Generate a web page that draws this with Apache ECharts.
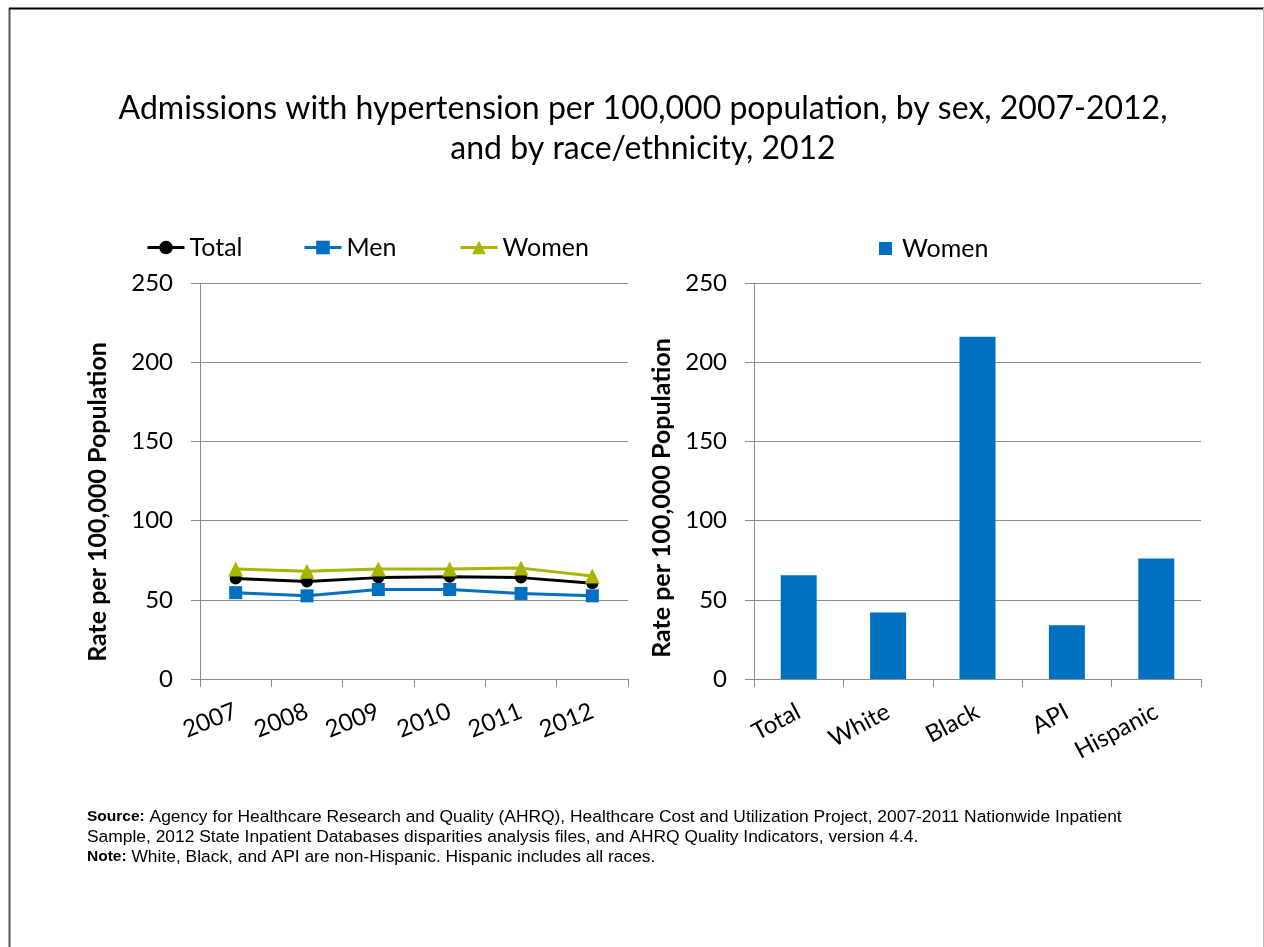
<!DOCTYPE html>
<html>
<head>
<meta charset="utf-8">
<script src="https://cdn.jsdelivr.net/npm/echarts@6/dist/echarts.min.js"></script>
<style>
html,body{margin:0;padding:0;background:#fff;}
#chart{width:1264px;height:947px;}
</style>
</head>
<body>
<div id="chart"></div>
<script>
var years = ['2007', '2008', '2009', '2010', '2011', '2012'];
var totalRates = [63.5, 61.5, 64, 64.5, 64, 60.5];
var menRates = [54.5, 52.5, 56.5, 56.5, 54, 52.5];
var womenRates = [69.5, 68, 69.5, 69.5, 70, 65];
var groups = ['Total', 'White', 'Black', 'API', 'Hispanic'];
var womenByGroup = [65.5, 42, 216, 34, 76];
var yMin = 0, yMax = 250, yStep = 50;

var FONT = 'Lato, "DejaVu Sans", sans-serif';
var FOOT = '"Liberation Sans", Arial, sans-serif';
var GRID_GRAY = '#8c8c8c';

function valueAxis(idx) {
  return {
    type: 'value', gridIndex: idx, min: yMin, max: yMax, interval: yStep,
    axisLine: {show: true, lineStyle: {color: GRID_GRAY, width: 1}},
    axisTick: {show: true, length: 9, lineStyle: {color: GRID_GRAY}},
    axisLabel: {color: '#000', fontFamily: FONT, fontSize: 24, margin: 27},
    splitLine: {show: true, lineStyle: {color: GRID_GRAY, width: 1}}
  };
}
function catAxis(idx, data, rot) {
  return {
    type: 'category', gridIndex: idx, data: data, boundaryGap: true,
    axisLine: {show: true, lineStyle: {color: GRID_GRAY, width: 1}},
    axisTick: {show: true, length: 8, alignWithLabel: false, lineStyle: {color: GRID_GRAY}},
    axisLabel: {color: '#000', fontFamily: FONT, fontSize: 24, rotate: rot, margin: 31, interval: 0}
  };
}

var chart = echarts.init(document.getElementById('chart'), null, {renderer: 'canvas'});
var legendText = {color: '#000', fontFamily: FONT, fontSize: 25};
var lineLegend = {itemWidth: 37, itemHeight: 17, textStyle: legendText, selectedMode: false, top: 230, lineStyle: {width: 3}};
chart.setOption({
  animation: false,
  backgroundColor: '#fff',
  title: {
    text: 'Admissions with hypertension per 100,000 population, by sex, 2007-2012,\nand by race/ethnicity, 2012',
    left: 638, top: 84, textAlign: 'center',
    textStyle: {fontFamily: FONT, fontSize: 32, fontWeight: 'normal', color: '#000', lineHeight: 40}
  },
  legend: [
    Object.assign({data: ['Total'], left: 141}, lineLegend),
    Object.assign({data: ['Men'], left: 298}, lineLegend),
    Object.assign({data: ['Women'], left: 454}, lineLegend),
    {data: ['WomenByGroup'], left: 874, top: 231, itemWidth: 13, itemHeight: 13, icon: 'rect',
     formatter: function () { return 'Women'; }, textStyle: Object.assign({padding: [0, 0, 0, 5]}, legendText), selectedMode: false}
  ],
  grid: [
    {left: 200, right: 636, top: 283, bottom: 268},
    {left: 754, right: 63, top: 283, bottom: 268}
  ],
  xAxis: [catAxis(0, years, 22), catAxis(1, groups, 28)],
  yAxis: [valueAxis(0), valueAxis(1)],
  series: [
    {name: 'Total', type: 'line', xAxisIndex: 0, yAxisIndex: 0, data: totalRates,
     symbol: 'circle', symbolSize: 12, lineStyle: {color: '#000', width: 3}, itemStyle: {color: '#000'}},
    {name: 'Men', type: 'line', xAxisIndex: 0, yAxisIndex: 0, data: menRates,
     symbol: 'rect', symbolSize: 13, lineStyle: {color: '#0070C0', width: 3}, itemStyle: {color: '#0070C0'}},
    {name: 'Women', type: 'line', xAxisIndex: 0, yAxisIndex: 0, data: womenRates,
     symbol: 'triangle', symbolSize: 15, lineStyle: {color: '#A8B600', width: 3}, itemStyle: {color: '#A8B600'}},
    {name: 'WomenByGroup', type: 'bar', xAxisIndex: 1, yAxisIndex: 1, data: womenByGroup,
     barWidth: 36, itemStyle: {color: '#0070C0'}}
  ],
  graphic: [
    {type: 'line', shape: {x1: 9.5, y1: 8, x2: 9.5, y2: 947}, style: {stroke: '#555', lineWidth: 2}},
    {type: 'line', shape: {x1: 9, y1: 8.5, x2: 1264, y2: 8.5}, style: {stroke: '#000', lineWidth: 2}},
    {type: 'line', shape: {x1: 1263.5, y1: 8, x2: 1263.5, y2: 947}, style: {stroke: '#bbb', lineWidth: 1}},
    {type: 'text', x: 98, y: 502, rotation: Math.PI / 2,
     style: {text: 'Rate per 100,000 Population', fontFamily: FONT, fontSize: 25, fontWeight: 'bold', fill: '#000', align: 'center', verticalAlign: 'middle'}},
    {type: 'text', x: 662, y: 498, rotation: Math.PI / 2,
     style: {text: 'Rate per 100,000 Population', fontFamily: FONT, fontSize: 25, fontWeight: 'bold', fill: '#000', align: 'center', verticalAlign: 'middle'}},
    {type: 'text', x: 87, y: 807,
     style: {
       text: '{b|Source:} Agency for Healthcare Research and Quality (AHRQ), Healthcare Cost and Utilization Project, 2007-2011 Nationwide Inpatient\nSample, 2012 State Inpatient Databases disparities analysis files, and AHRQ Quality Indicators, version 4.4.\n{b|Note:} White, Black, and API are non-Hispanic. Hispanic includes all races.',
       fontFamily: FOOT, fontSize: 17.4, fill: '#000', lineHeight: 20,
       rich: {b: {fontWeight: 'bold', fontFamily: FOOT, fontSize: 15.5, lineHeight: 20}}
     }}
  ]
});
</script>
</body>
</html>
